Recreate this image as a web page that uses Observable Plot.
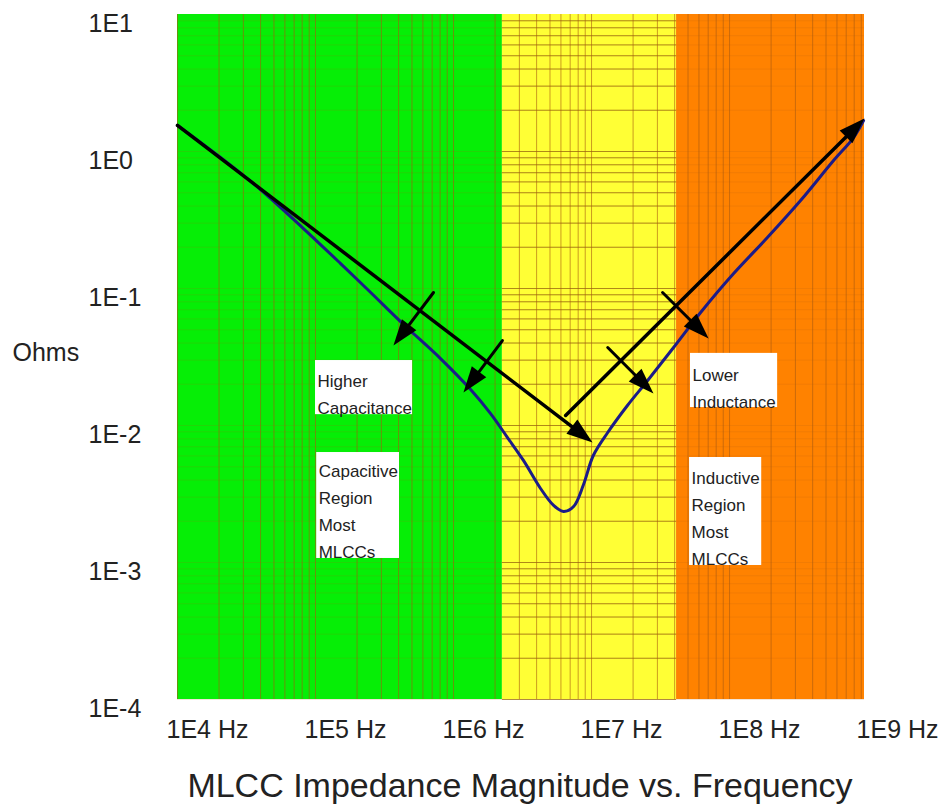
<!DOCTYPE html>
<html>
<head>
<meta charset="utf-8">
<script src="https://cdn.jsdelivr.net/npm/d3@7"></script>
<script src="https://cdn.jsdelivr.net/npm/@observablehq/plot@0.6"></script>
<style>
  body { margin: 0; background: #fff; font-family: Arial, "Liberation Sans", sans-serif; }
  #chart svg { display: block; }
  #title { padding-left: 92px; width: 856px; text-align: center; font-size: 34px; line-height: 39px; color: #222; white-space: nowrap; }
</style>
</head>
<body>
<div id="chart"></div>
<div id="title">MLCC Impedance Magnitude vs. Frequency</div>
<script>
// ---- axis ticks ----
const xTicks = [1e4, 1e5, 1e6, 1e7, 1e8, 1e9];
const xTickLabels = ["1E4 Hz", "1E5 Hz", "1E6 Hz", "1E7 Hz", "1E8 Hz", "1E9 Hz"];
const yTicks = [1e1, 1e0, 1e-1, 1e-2, 1e-3, 1e-4];
const yTickLabels = ["1E1", "1E0", "1E-1", "1E-2", "1E-3", "1E-4"];

// ---- background regions (Hz) ----
const regionNames = ["Capacitive", "Resonance", "Inductive"];
const regionStart = [1e4, 2.26e6, 4.13e7];
const regionEnd = [2.26e6, 4.13e7, 9.5e8];
const regionColors = ["#06ee06", "#ffff35", "#ff8200"];

// ---- impedance curve ----
const curveFreq = [1.0e4, 2.05e4, 3.99e4, 8.18e4, 1.52e5, 2.51e5, 4.35e5, 8.05e5, 1.33e6, 1.85e6,
  2.46e6, 3.21e6, 4.27e6, 5.31e6, 6.27e6, 7.41e6, 8.75e6, 1.03e7, 1.31e7, 1.82e7,
  2.55e7, 3.93e7, 6.17e7, 1.07e8, 1.88e8, 3.27e8, 5.67e8, 7.92e8, 9.35e8];
const curveOhms = [1.55, 0.904, 0.528, 0.274, 0.152, 0.0935, 0.0546, 0.0308, 0.0183, 0.01225,
  0.00817, 0.00556, 0.00347, 0.00261, 0.00236, 0.00256, 0.00371, 0.00604, 0.00889, 0.0140,
  0.0213, 0.0371, 0.0668, 0.1286, 0.2355, 0.4385, 0.859, 1.265, 1.68];

// ---- arrows ----
const arrowFromFreq = [1.0e4, 6.49e6, 7.16e5, 2.26e6, 1.31e7, 3.27e7];
const arrowFromOhms = [1.55, 0.01183, 0.0935, 0.0417, 0.0371, 0.0935];
const arrowToFreq = [1.017e7, 9.5e8, 3.67e5, 1.18e6, 2.81e7, 7.05e7];
const arrowToOhms = [0.00752, 1.74, 0.0384, 0.0174, 0.01713, 0.0432];
const arrowWeight = [3.5, 3.5, 3, 3, 3, 3];

// ---- annotation boxes ----
const boxText = ["Higher\nCapacitance", "Capacitive\nRegion\nMost\nMLCCs", "Lower\nInductance", "Inductive\nRegion\nMost\nMLCCs"];
const boxFreq1 = [1.0e5, 1.02e5, 5.21e7, 5.13e7];
const boxFreq2 = [5.05e5, 4.06e5, 2.23e8, 1.71e8];
const boxOhmsTop = [0.0298, 0.00635, 0.0336, 0.00584];
const boxOhmsBottom = [0.0120, 0.00107, 0.01352, 0.000951];
const boxTextOhms = [0.01757, 0.00246, 0.0196, 0.00218];

// ---- build tables ----
const W = 948, H = 766, ML = 177, MR = 84, MT = 14, MB = 67;
const xDomain = [1e4, 9.5e8], yDomain = [1e-4, 1e1];
const pxX = (W - ML - MR) / (Math.log10(xDomain[1]) - Math.log10(xDomain[0]));
const pxY = (H - MT - MB) / (Math.log10(yDomain[1]) - Math.log10(yDomain[0]));

const regions = regionNames.map((n, i) => ({n, x1: regionStart[i], x2: regionEnd[i], c: regionColors[i]}));
const curve = curveFreq.map((f, i) => ({f, z: curveOhms[i]}));
const arrows = arrowFromFreq.map((f, i) => {
  const a = {x1: f, y1: arrowFromOhms[i], x2: arrowToFreq[i], y2: arrowToOhms[i], w: arrowWeight[i]};
  const dx = (Math.log10(a.x2) - Math.log10(a.x1)) * pxX;
  const dyUp = (Math.log10(a.y2) - Math.log10(a.y1)) * pxY;
  a.rot = Math.atan2(dx, dyUp) * 180 / Math.PI;
  return a;
});
const boxes = boxText.map((t, i) => ({t, x1: boxFreq1[i], x2: boxFreq2[i], y1: boxOhmsBottom[i], y2: boxOhmsTop[i], ty: boxTextOhms[i]}));

// grid lines at 1..9 x 10^k
const xGrid = [];
for (let k = 4; k <= 8; k++) for (let m = 1; m <= 9; m++) { const v = m * 10 ** k; if (v <= xDomain[1]) xGrid.push(v); }
const yGrid = [];
for (let k = -4; k <= 0; k++) for (let m = 1; m <= 9; m++) yGrid.push(m * 10 ** k);

const xLabelMap = new Map(xTicks.map((t, i) => [t, xTickLabels[i]]));
const yLabelMap = new Map(yTicks.map((t, i) => [t, yTickLabels[i]]));

const headSymbol = {
  draw(ctx) { ctx.moveTo(0, 0); ctx.lineTo(-9, 26); ctx.lineTo(9, 26); ctx.closePath(); }
};

const chart = Plot.plot({
  width: W, height: H,
  marginLeft: ML, marginRight: MR, marginTop: MT, marginBottom: MB,
  x: {type: "log", domain: xDomain},
  y: {type: "log", domain: yDomain},
  style: {fontFamily: 'Arial, "Liberation Sans", sans-serif', background: "#fff", color: "#222", overflow: "visible"},
  marks: [
    Plot.rect(regions, {x1: "x1", x2: "x2", fill: "c"}),
    Plot.ruleY(yGrid, {stroke: "#b06010", strokeOpacity: 0.16, strokeWidth: 1}),
    Plot.ruleY(yGrid, {x1: regionStart[1], x2: regionEnd[1], stroke: "#9a6a10", strokeOpacity: 0.75, strokeWidth: 1}),
    Plot.ruleX(xGrid, {stroke: "#a85a10", strokeOpacity: 0.6, strokeWidth: 1}),
    Plot.rect(boxes, {x1: "x1", x2: "x2", y1: "y1", y2: "y2", fill: "#fff"}),
    Plot.text(boxes, {x: "x1", y: "ty", text: "t", textAnchor: "start", dx: 2, lineAnchor: "middle", lineHeight: 1.59, fontSize: 17, fill: "#222"}),
    Plot.line(curve, {x: "f", y: "z", stroke: "#1c1c88", strokeWidth: 3, curve: "catmull-rom"}),
    Plot.arrow(arrows, {x1: "x1", y1: "y1", x2: "x2", y2: "y2", stroke: "#000", strokeWidth: "w", headLength: 0, insetEnd: 14}),
    Plot.dot(arrows, {x: "x2", y: "y2", rotate: "rot", symbol: headSymbol, fill: "#000", stroke: "none", r: 10}),
    Plot.axisX(xTicks, {tickFormat: d => xLabelMap.get(d), tickSize: 0, tickPadding: 21, textAnchor: "start", dx: -11, fontSize: 25, label: null}),
    Plot.axisY(yTicks, {tickFormat: d => yLabelMap.get(d), tickSize: 0, tickPadding: 0, textAnchor: "start", dx: -89, dy: 9, fontSize: 25, label: null}),
    Plot.text(["Ohms"], {frameAnchor: "left", dx: -165, dy: -4, textAnchor: "start", fontSize: 25, fill: "#222"})
  ]
});
document.getElementById("chart").appendChild(chart);
</script>
</body>
</html>
